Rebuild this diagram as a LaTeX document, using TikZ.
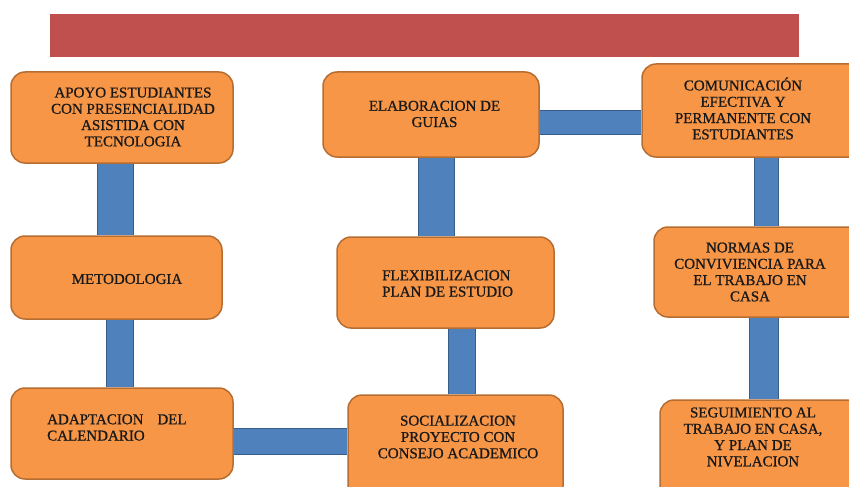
\documentclass[tikz,border=0pt]{standalone}
\usepackage{fontspec}
\setmainfont{Liberation Serif}
\newfontfamily\boxfont[FakeBold=0.8]{Liberation Serif}
\usetikzlibrary{fit,backgrounds}
\definecolor{boxfill}{HTML}{F79646}
\definecolor{boxline}{HTML}{B66D31}
\definecolor{barfill}{HTML}{4F81BD}
\definecolor{barline}{HTML}{385D8A}
\definecolor{titlered}{HTML}{C0504D}
\begin{document}
\begin{tikzpicture}[x=1pt,y=-1pt,
  box/.style={rectangle, rounded corners=14pt, draw=boxline, line width=1.5pt, fill=boxfill, inner sep=0pt},
  txt/.style={font=\boxfont\fontsize{15}{16.3}\selectfont, align=center, inner sep=0pt, text=black!90},
  conn/.style={draw=barline, line width=1.2pt, double=barfill, double distance=#1},
  titlebar/.style={fill=titlered, draw=none, inner sep=0pt}]
\useasboundingbox (0,0) rectangle (849,487);
\clip (0,0) rectangle (849,487);

% title bar
\node[titlebar, fit={(50,14) (799,57)}] (title) {};

% boxes
\node[box, fit={(11,72) (233,163)}]  (apoyo)  {};
\node[box, fit={(11,236) (222,319)}] (metod)  {};
\node[box, fit={(11,388) (233,479)}] (adapt)  {};
\node[box, fit={(323,72) (539,157)}] (elab)   {};
\node[box, fit={(337,237) (554,328)}] (flex)  {};
\node[box, fit={(348,395) (563,500)}] (social) {};
\node[box, fit={(642,64) (875,157)}] (com)    {};
\node[box, fit={(654,227) (875,317)}] (normas) {};
\node[box, fit={(660,400) (875,500)}] (seg)    {};

% texts
\node[txt] (t-apoyo) at (133,117) {APOYO ESTUDIANTES\\CON PRESENCIALIDAD\\ASISTIDA CON\\TECNOLOGIA};
\node[txt] (t-metod) at (127,279) {METODOLOGIA};
\node[txt, align=left, anchor=west] (t-adapt) at (47,427.5) {ADAPTACION\hspace{14pt}DEL\\CALENDARIO};
\node[txt] (t-elab) at (434.5,114) {ELABORACION DE\\GUIAS};
\node[txt, align=left, anchor=west] (t-flex) at (382,283.5) {FLEXIBILIZACION\\PLAN DE ESTUDIO};
\node[txt] (t-social) at (458,437) {SOCIALIZACION\\PROYECTO CON\\CONSEJO ACADEMICO};
\node[txt] (t-com) at (743,108.5) {COMUNICACIÓN\\EFECTIVA Y\\PERMANENTE CON\\ESTUDIANTES};
\node[txt] (t-normas) at (750,272) {NORMAS DE\\CONVIVIENCIA PARA\\EL TRABAJO EN\\CASA};
\node[txt] (t-seg) at (753,437) {SEGUIMIENTO AL\\TRABAJO EN CASA,\\Y PLAN DE\\NIVELACION};

% connector axes
\coordinate (x1) at (115.5,0);
\coordinate (x2) at (120,0);
\coordinate (y3) at (0,441.5);
\coordinate (x4) at (462,0);
\coordinate (x5) at (436.5,0);
\coordinate (y6) at (0,122.5);
\coordinate (x7) at (766.5,0);
\coordinate (x8) at (764,0);

\begin{scope}[on background layer]
\draw[conn=34.6pt] (apoyo.south -| x1) -- (metod.north -| x1);
\draw[conn=25.6pt] (metod.south -| x2) -- (adapt.north -| x2);
\draw[conn=24.6pt] (adapt.east |- y3) -- (social.west |- y3);
\draw[conn=25.6pt] (social.north -| x4) -- (flex.south -| x4);
\draw[conn=34.6pt] (flex.north -| x5) -- (elab.south -| x5);
\draw[conn=22.6pt] (elab.east |- y6) -- (com.west |- y6);
\draw[conn=22.6pt] (com.south -| x7) -- (normas.north -| x7);
\draw[conn=27.6pt] (normas.south -| x8) -- (seg.north -| x8);
\end{scope}
\end{tikzpicture}
\end{document}
